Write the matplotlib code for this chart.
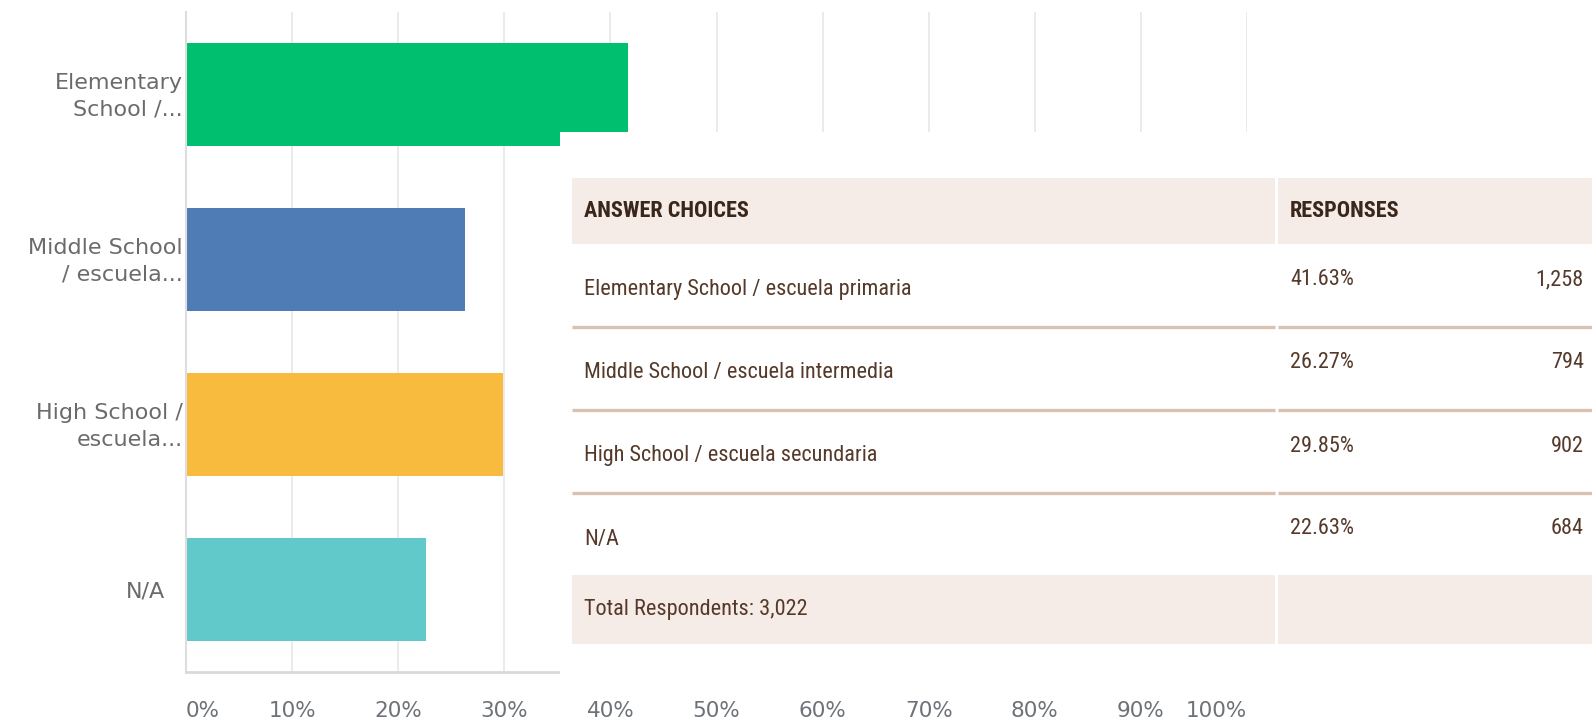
import matplotlib
matplotlib.use("Agg")
import matplotlib.pyplot as plt
from matplotlib import font_manager
from matplotlib.patches import Rectangle
import matplotlib.transforms as mtransforms

# ---------------- data ----------------
categories = ["Elementary\nSchool /...", "Middle School\n/ escuela...",
              "High School /\nescuela...", "N/A"]
answer_choices = ["Elementary School / escuela primaria",
                  "Middle School / escuela intermedia",
                  "High School / escuela secundaria",
                  "N/A"]
percentages = [41.63, 26.27, 29.85, 22.63]
counts = [1258, 794, 902, 684]
total_respondents = 3022
bar_colors = ["#00bf6f", "#507cb6", "#f8bb3d", "#62c9ca"]
x_ticks = [0, 10, 20, 30, 40, 50, 60, 70, 80, 90, 100]
x_tick_labels = ["0%", "10%", "20%", "30%", "40%", "50%", "60%", "70%", "80%", "90%", "100%"]
header_labels = ["ANSWER CHOICES", "RESPONSES"]

# ---------------- fonts ----------------
avail = {f.name for f in font_manager.fontManager.ttflist}
cond = next((f for f in ["Liberation Sans Narrow", "DejaVu Sans Condensed",
                         "Roboto Condensed", "Liberation Sans"] if f in avail), "DejaVu Sans")

W, H = 1592, 722


def fr(x0, y0, x1, y1):
    return [x0 / W, 1 - y1 / H, (x1 - x0) / W, (y1 - y0) / H]


fig = plt.figure(figsize=(W / 100, H / 100), dpi=100)
fig.patch.set_facecolor("white")

# ---------------- bar chart ----------------
ax = fig.add_axes(fr(186, 12, 1247, 672))
ypos = list(range(len(categories)))
ax.barh(ypos, percentages, height=0.62, color=bar_colors, zorder=2)
ax.set_xlim(0, 100)
ax.set_ylim(len(categories) - 0.5, -0.5)
ax.set_xticks(x_ticks)
ax.set_xticklabels(x_tick_labels)
ax.set_yticks([])
ax.grid(axis="x", color="#ebebeb", lw=1.4, zorder=0)
ax.set_axisbelow(True)
for s in ["top", "right"]:
    ax.spines[s].set_visible(False)
ax.spines["left"].set_color("#dedede")
ax.spines["left"].set_linewidth(1.5)
ax.spines["bottom"].set_color("#d9d9d9")
ax.spines["bottom"].set_linewidth(2)
ax.tick_params(axis="x", length=0, pad=21, labelsize=15.5, labelcolor="#6d7278")
lbls = ax.get_xticklabels()
lbls[0].set_ha("left")
lbls[-1].set_ha("right")

blend = mtransforms.blended_transform_factory(ax.transAxes, ax.transData)
label_x = [-0.003, -0.003, -0.003, -0.02]
for i, cat in enumerate(categories):
    ax.text(label_x[i], i + 0.01, cat, transform=blend, ha="right", va="center",
            multialignment="right", linespacing=1.42, fontsize=16, color="#6b6b6b")

# ---------------- overlaid table panel ----------------
pn = fig.add_axes(fr(560, 132, 1592, 692), zorder=5)
pn.set_facecolor("white")
pn.set_xlim(560, 1592)
pn.set_ylim(692, 132)
pn.set_xticks([])
pn.set_yticks([])
for s in pn.spines.values():
    s.set_visible(False)

bg = "#f6ece7"
sep = "#d9c2b1"
txt = "#55392a"
hdr = "#3a271b"
left, div, right = 572, 1276, 1592

# header
pn.add_patch(Rectangle((left, 178), div - 1.5 - left, 66, color=bg, lw=0))
pn.add_patch(Rectangle((div + 1.5, 178), right - div - 1.5, 66, color=bg, lw=0))
pn.text(left + 12, 211, header_labels[0], fontsize=16, fontweight="bold",
        color=hdr, family=cond, va="center", ha="left")
pn.text(div + 14, 211, header_labels[1], fontsize=16, fontweight="bold",
        color=hdr, family=cond, va="center", ha="left")

row_top0, row_h = 244, 83
for i, (name, p, c) in enumerate(zip(answer_choices, percentages, counts)):
    top = row_top0 + i * row_h
    pn.text(left + 12, top + 46, name, fontsize=16, color=txt, family=cond,
            va="center", ha="left")
    pn.text(div + 14, top + 36, f"{p:.2f}%", fontsize=16, color=txt, family=cond,
            va="center", ha="left")
    pn.text(right - 8, top + 36, f"{c:,}", fontsize=16, color=txt, family=cond,
            va="center", ha="right")
    if i < len(answer_choices) - 1:
        yl = top + row_h
        pn.plot([left, div - 1.5], [yl, yl], color=sep, lw=2.4, solid_capstyle="butt")
        pn.plot([div + 1.5, right], [yl, yl], color=sep, lw=2.4, solid_capstyle="butt")

# total row
ttop = row_top0 + len(answer_choices) * row_h - 1
pn.add_patch(Rectangle((left, ttop), div - 1.5 - left, 69, color=bg, lw=0))
pn.add_patch(Rectangle((div + 1.5, ttop), right - div - 1.5, 69, color=bg, lw=0))
pn.text(left + 12, ttop + 35, f"Total Respondents: {total_respondents:,}", fontsize=16,
        color=txt, family=cond, va="center", ha="left")

fig.savefig("out.png", dpi=100, facecolor="white")
